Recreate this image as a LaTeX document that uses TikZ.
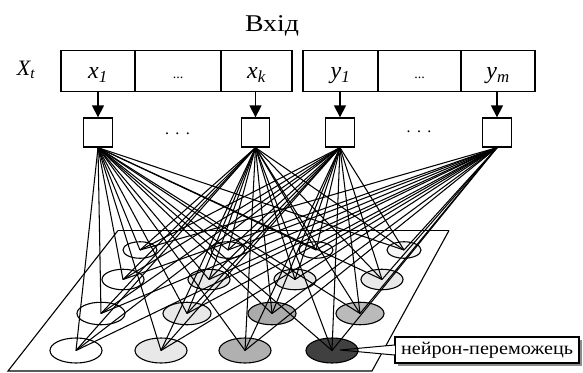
\documentclass[tikz,border=0pt]{standalone}
\usepackage{fontspec}
\setmainfont{Liberation Serif}
\usetikzlibrary{shapes.geometric,arrows.meta}
\begin{document}
\begin{tikzpicture}[x=1pt,y=-1pt,
  cell/.style={draw, line width=1.3pt, minimum height=41pt, inner sep=0pt,
    text height=16pt, text depth=1pt, font=\fontsize{24}{24}\selectfont\itshape},
  sq/.style={draw, line width=1.3pt, minimum width=28.5pt, minimum height=29pt, inner sep=0pt},
  arr/.style={-{Triangle[length=12pt,width=12pt]}, line width=1.3pt},
  neu/.style={draw, ellipse, inner sep=0pt, line width=1.1pt},
  link/.style={line width=1.05pt},
  r1/.style={neu, minimum width=52pt, minimum height=25pt},
  r2/.style={neu, minimum width=48pt, minimum height=22.5pt},
  r3/.style={neu, minimum width=42pt, minimum height=20.5pt},
  r4/.style={neu, minimum width=34pt, minimum height=16.5pt}
]
\useasboundingbox (0,0) rectangle (583,372);

% title
\node (title) at (272,26) {\resizebox{54pt}{\height}{\fontsize{24}{24}\selectfont Вхід}};
\node (xt) at (26,70) {\fontsize{22}{22}\selectfont\itshape X\textsubscript{t}};

% input cells
\node[cell, minimum width=74pt] (c1) at (98,71) {x\textsubscript{1}};
\node[cell, minimum width=86pt] (c2) at (178,71) {\fontsize{14}{14}\selectfont\upshape ...};
\node[cell, minimum width=71pt] (c3) at (256.5,71) {x\textsubscript{k}};
\node[cell, minimum width=75pt] (c4) at (340.5,71) {y\textsubscript{1}};
\node[cell, minimum width=83pt] (c5) at (419.5,71) {\fontsize{14}{14}\selectfont\upshape ...};
\node[cell, minimum width=74pt] (c6) at (498,71) {y\textsubscript{m}};

% squares
\node[sq] (s1) at (98,132.5) {};
\node[sq] (s2) at (255.5,132.5) {};
\node[sq] (s3) at (340,132.5) {};
\node[sq] (s4) at (497,132.5) {};
\node[anchor=base, font=\fontsize{16}{16}\selectfont] (d1) at (177.5,134.5) {.\hspace{6.5pt}.\hspace{6.5pt}.};
\node[anchor=base, font=\fontsize{16}{16}\selectfont] (d2) at (419,132) {.\hspace{6.5pt}.\hspace{6.5pt}.};

\draw[arr] (s1.north |- c1.south) -- (s1.north);
\draw[arr] (s2.north |- c3.south) -- (s2.north);
\draw[arr] (s3.north |- c4.south) -- (s3.north);
\draw[arr] (s4.north |- c6.south) -- (s4.north);

% map plane
\coordinate (p1) at (8,371);
\coordinate (p2) at (118,230.5);
\coordinate (p3) at (449,230.5);
\coordinate (p4) at (372,371);
\draw[line width=1.1pt] (p2) -- (p1) -- (p4) -- (p3);
\draw[line width=1.6pt] (p2) -- (p3);

% neurons
\node[r1, fill=white]        (n11) at (76,350.5) {};
\node[r1, fill=black!9]      (n12) at (161,350.5) {};
\node[r1, fill=black!31]     (n13) at (245,350.5) {};
\node[r1, fill=black!75]     (n14) at (332,350.5) {};
\node[r2, fill=white]        (n21) at (101,313.5) {};
\node[r2, fill=black!9]      (n22) at (187,313.5) {};
\node[r2, fill=black!33]     (n23) at (272,313.5) {};
\node[r2, fill=black!27]     (n24) at (360,313.5) {};
\node[r3, fill=white]        (n31) at (123,279.5) {};
\node[r3, fill=black!9]      (n32) at (209,279.5) {};
\node[r3, fill=black!9]      (n33) at (295,279.5) {};
\node[r3, fill=black!9]      (n34) at (382,279.5) {};
\node[r4, fill=white]        (n41) at (140,250) {};
\node[r4, fill=white]        (n42) at (228,250) {};
\node[r4, fill=white]        (n43) at (316,250) {};
\node[r4, fill=black!4]      (n44) at (404,250) {};

% connections
\foreach \s in {s1,s2,s3,s4}{
  \foreach \n in {n11,n12,n13,n14,n21,n22,n23,n24,n31,n32,n33,n34,n41,n42,n43,n44}{
    \draw[link] (\s.south) -- (\n.center);
  }
}

% winner label
\fill[black!45] (397.5,339.5) rectangle (581.5,366);
\node[draw, fill=white, line width=1.1pt, minimum width=184pt, minimum height=26pt, inner sep=0pt]
  (lbl) at (487,350) {\resizebox{172pt}{\height}{\fontsize{18}{18}\selectfont нейрон-переможець}};
\coordinate (tip) at (340,350);
\fill[white] ([yshift=5pt]lbl.west) -- (362,348) -- (362,352) -- ([yshift=-5pt]lbl.west) -- cycle;
\draw[white, line width=1.8pt] ([yshift=4.4pt]lbl.west) -- ([yshift=-4.4pt]lbl.west);
\draw[line width=1pt] ([yshift=5pt]lbl.west) -- (tip) -- ([yshift=-5pt]lbl.west);
\end{tikzpicture}
\end{document}
